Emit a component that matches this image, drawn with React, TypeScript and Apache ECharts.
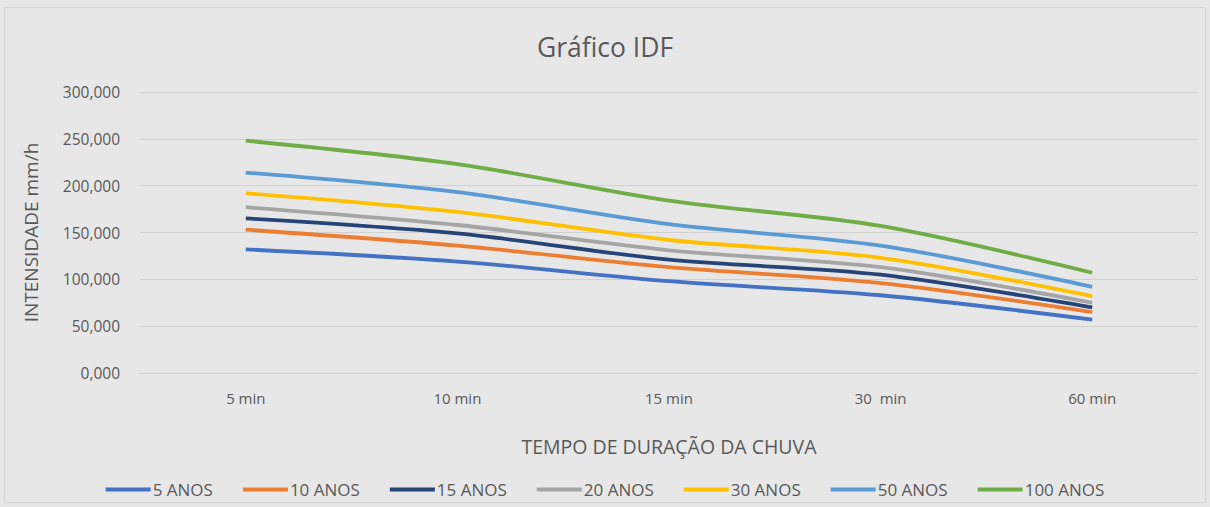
import React, { useEffect, useRef } from "react";
import * as echarts from "echarts";

const categories = ["5 min", "10 min", "15 min", "30  min", "60 min"];
const seriesNames = ["5 ANOS", "10 ANOS", "15 ANOS", "20 ANOS", "30 ANOS", "50 ANOS", "100 ANOS"];
const anos5 = [132, 119, 98, 83, 57];
const anos10 = [153, 136, 113, 96, 65];
const anos15 = [165, 149, 121, 105, 70];
const anos20 = [177, 158, 131, 113, 75];
const anos30 = [192, 172, 142, 123, 82];
const anos50 = [214, 193, 159, 136, 92];
const anos100 = [248, 223, 184, 157, 107];
const colors = ["#4472C4", "#ED7D31", "#264478", "#A5A5A5", "#FFC000", "#5B9BD5", "#70AD47"];

const FONT = "'Open Sans', 'Noto Sans', sans-serif";

export default function App() {
  const ref = useRef<HTMLDivElement>(null);
  useEffect(() => {
    document.body.style.margin = "0";
    const chart = echarts.init(ref.current!, null, { renderer: "svg" });
    const data = [anos5, anos10, anos15, anos20, anos30, anos50, anos100];
    chart.setOption({
      animation: false,
      backgroundColor: "#e7e7e7",
      textStyle: { fontFamily: FONT },
      title: {
        text: "Gráfico IDF",
        left: "center",
        top: 28,
        textStyle: { fontSize: 26.5, fontWeight: "normal", color: "#595959", fontFamily: FONT },
      },
      legend: {
        bottom: 4,
        left: "center",
        itemWidth: 45,
        itemHeight: 4,
        itemGap: 30,
        icon: "rect",
        textStyle: { fontSize: 17, color: "#595959", padding: [0, 0, 0, -3] },
        data: seriesNames,
      },
      grid: { left: 140, right: 12, top: 92, bottom: 134 },
      xAxis: {
        type: "category",
        data: categories,
        boundaryGap: true,
        axisLine: { lineStyle: { color: "#d0d0d0" } },
        axisTick: { show: false },
        axisLabel: { color: "#595959", fontSize: 15, margin: 17 },
        name: "TEMPO DE DURAÇÃO DA CHUVA",
        nameLocation: "middle",
        nameGap: 63,
        nameTextStyle: { color: "#595959", fontSize: 19.5 },
      },
      yAxis: {
        type: "value",
        min: 0,
        max: 300,
        interval: 50,
        axisLine: { show: false },
        axisTick: { show: false },
        splitLine: { lineStyle: { color: "#d0d0d0" } },
        axisLabel: {
          color: "#595959",
          fontSize: 15.5,
          margin: 20,
          formatter: (v: number) => v.toFixed(3).replace(".", ","),
        },
        name: "INTENSIDADE mm/h",
        nameLocation: "middle",
        nameGap: 100,
        nameTextStyle: { color: "#595959", fontSize: 19 },
      },
      series: seriesNames.map((n, i) => ({
        name: n,
        type: "line",
        data: data[i],
        smooth: 0.3,
        showSymbol: false,
        symbol: "none",
        lineStyle: { width: 3.8, color: colors[i] },
        itemStyle: { color: colors[i] },
      })),
      graphic: [
        {
          type: "rect",
          shape: { x: 4.5, y: 7.5, width: 1201, height: 495 },
          style: { fill: "none", stroke: "#d4d4d4", lineWidth: 1 },
          silent: true,
        },
      ],
    });
    return () => chart.dispose();
  }, []);
  return <div ref={ref} style={{ width: 1210, height: 507 }} />;
}
